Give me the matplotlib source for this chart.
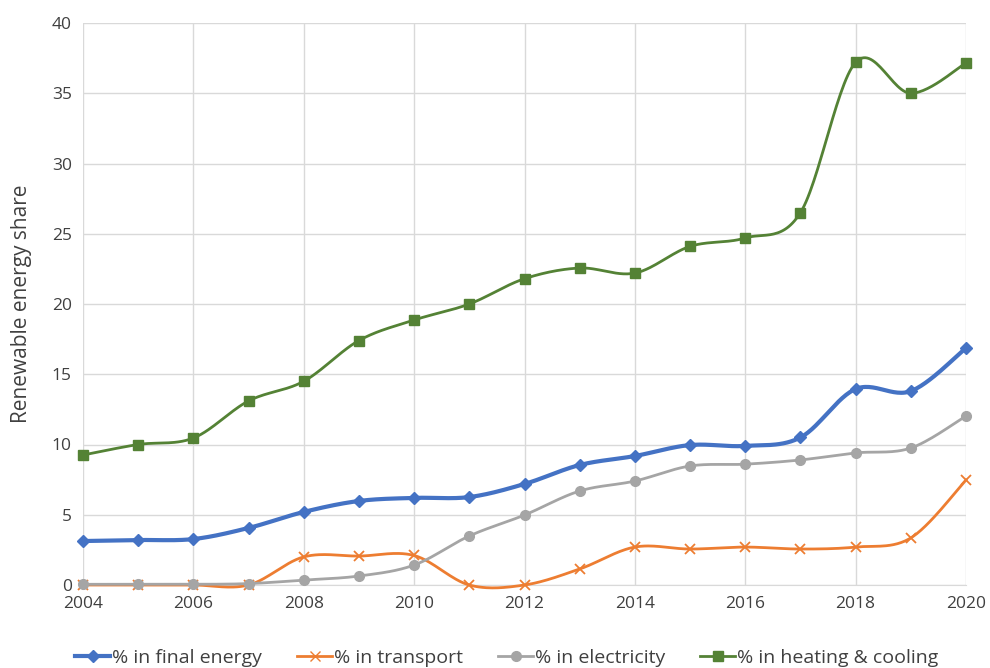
import matplotlib
matplotlib.use("Agg")
import matplotlib.pyplot as plt
import numpy as np

plt.rcParams["font.family"] = ["Open Sans", "DejaVu Sans"]

years = list(range(2004, 2021))
final_energy = [3.13, 3.2, 3.27, 4.06, 5.2, 5.98, 6.2, 6.26, 7.19, 8.54, 9.18,
                9.96, 9.9, 10.5, 13.95, 13.8, 16.87]
transport = [0.0, 0.0, 0.0, 0.0, 2.0, 2.06, 2.1, 0.0, 0.0, 1.14, 2.7,
             2.56, 2.7, 2.56, 2.7, 3.35, 7.47]
electricity = [0.05, 0.05, 0.05, 0.1, 0.35, 0.64, 1.42, 3.49, 4.98, 6.69, 7.4,
               8.47, 8.6, 8.9, 9.4, 9.75, 12.03]
heating_cooling = [9.25, 10.0, 10.46, 13.1, 14.5, 17.4, 18.86, 20.0, 21.8, 22.56, 22.2,
                   24.1, 24.7, 26.5, 37.2, 35.0, 37.15]


def smooth(x, y, n=30):
    # Excel-like smoothed line: cubic bezier with catmull-rom control points
    x = np.asarray(x, float)
    y = np.asarray(y, float)
    px = np.concatenate([[x[0]], x, [x[-1]]])
    py = np.concatenate([[y[0]], y, [y[-1]]])
    t = np.linspace(0, 1, n)
    xs, ys = [], []
    for i in range(1, len(px) - 2):
        p0 = np.array([px[i], py[i]])
        p3 = np.array([px[i + 1], py[i + 1]])
        c1 = p0 + (np.array([px[i + 1], py[i + 1]]) - np.array([px[i - 1], py[i - 1]])) / 6
        c2 = p3 - (np.array([px[i + 2], py[i + 2]]) - np.array([px[i], py[i]])) / 6
        b = ((1 - t) ** 3)[:, None] * p0 + (3 * (1 - t) ** 2 * t)[:, None] * c1 \
            + (3 * (1 - t) * t ** 2)[:, None] * c2 + (t ** 3)[:, None] * p3
        xs.append(b[:, 0])
        ys.append(b[:, 1])
    return np.concatenate(xs), np.concatenate(ys)


fig = plt.figure(figsize=(9.9, 6.68), dpi=100)
ax = fig.add_axes([83 / 990, 1 - 585 / 668, (966 - 83) / 990, (585 - 23) / 668])

series = [
    ("% in final energy", final_energy, "#4472C4", "D", 3.0, 6),
    ("% in transport", transport, "#ED7D31", "x", 2.0, 7),
    ("% in electricity", electricity, "#A5A5A5", "o", 2.0, 7),
    ("% in heating & cooling", heating_cooling, "#548235", "s", 2.0, 7),
]

for label, vals, color, marker, lw, ms in series:
    sx, sy = smooth(years, vals)
    ax.plot(sx, sy, color=color, linewidth=lw, zorder=3, clip_on=False)
    ax.plot(years, vals, linestyle="none", marker=marker, color=color,
            markersize=ms, markeredgewidth=1.3 if marker == "x" else 1,
            zorder=4, clip_on=False)
    # legend proxy
    ax.plot([], [], color=color, linewidth=lw, marker=marker, markersize=ms,
            label=label)

ax.set_xlim(2004, 2020)
ax.set_ylim(0, 40)
ax.set_xticks(range(2004, 2021, 2))
ax.set_yticks(range(0, 41, 5))
ax.grid(True, color="#D9D9D9", linewidth=1)
ax.set_axisbelow(True)
for s in ["top", "right", "left"]:
    ax.spines[s].set_visible(False)
ax.spines["bottom"].set_color("#D9D9D9")
ax.tick_params(length=0, labelsize=12.5, colors="#404040", pad=8)
ax.set_ylabel("Renewable energy share", fontsize=15, color="#404040", labelpad=14)

ax.legend(loc="upper center", bbox_to_anchor=(0.48, -0.082), ncol=4, frameon=False,
          fontsize=14, handlelength=1.8, handletextpad=0.1, columnspacing=1.8,
          labelcolor="#404040")

fig.savefig("out.png", dpi=100)
